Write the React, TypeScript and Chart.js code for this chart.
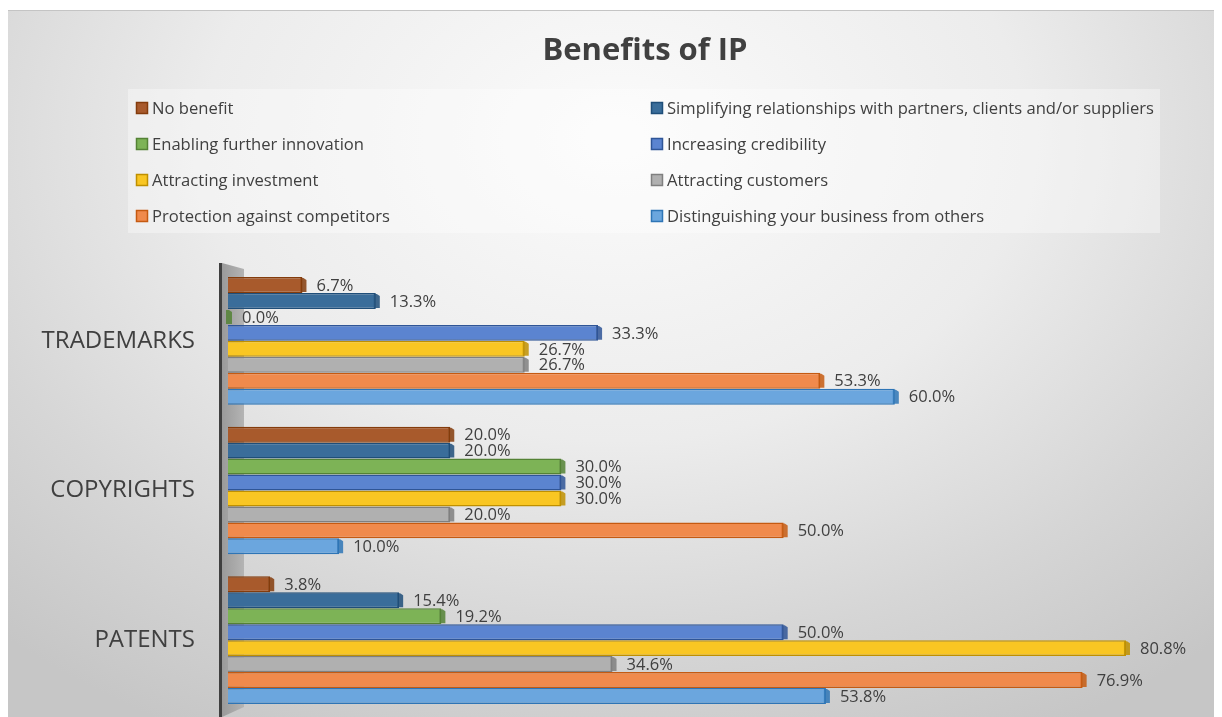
import React, { useEffect, useRef } from "react";
import { Chart, registerables } from "chart.js";

Chart.register(...registerables);

const categories = ["TRADEMARKS", "COPYRIGHTS", "PATENTS"];

const seriesNames = [
  "No benefit",
  "Simplifying relationships with partners, clients and/or suppliers",
  "Enabling further innovation",
  "Increasing credibility",
  "Attracting investment",
  "Attracting customers",
  "Protection against competitors",
  "Distinguishing your business from others",
];

const noBenefit = [6.7, 20.0, 3.8];
const simplifying = [13.3, 20.0, 15.4];
const enabling = [0.0, 30.0, 19.2];
const credibility = [33.3, 30.0, 50.0];
const investment = [26.7, 30.0, 80.8];
const customers = [26.7, 20.0, 34.6];
const protection = [53.3, 50.0, 76.9];
const distinguishing = [60.0, 10.0, 53.8];

const seriesValues = [noBenefit, simplifying, enabling, credibility, investment, customers, protection, distinguishing];

const fills = ["#A85A2C", "#3A6D9A", "#7DB356", "#5B84D0", "#F9C623", "#B0B0B0", "#F08A4C", "#6BA6DE"];
const borders = ["#843C0C", "#1F4E79", "#548235", "#2F5597", "#BF9000", "#7F7F7F", "#C55A11", "#2E75B6"];

const TEXT = "#404040";
const FONT = "'Open Sans', 'Noto Sans', sans-serif";

const decorPlugin = {
  id: "decor",
  beforeDatasetsDraw(chart: any) {
    const { ctx, chartArea } = chart;
    const L = chartArea.left;
    ctx.save();
    // back wall
    const g = ctx.createLinearGradient(L - 6, 0, L + 16, 0);
    g.addColorStop(0, "#9a9a9a");
    g.addColorStop(1, "#b4b4b4");
    ctx.fillStyle = g;
    ctx.beginPath();
    ctx.moveTo(L - 6, chartArea.top - 3);
    ctx.lineTo(L + 16, chartArea.top + 3);
    ctx.lineTo(L + 16, chartArea.bottom - 8);
    ctx.lineTo(L - 6, chartArea.bottom + 2);
    ctx.closePath();
    ctx.fill();
    // axis line
    ctx.fillStyle = "#3f3f3f";
    ctx.fillRect(L - 9, chartArea.top - 3, 3, chartArea.bottom - chartArea.top + 10);
    ctx.restore();
  },
  afterDatasetsDraw(chart: any) {
    const { ctx } = chart;
    ctx.save();
    chart.data.datasets.forEach((ds: any, di: number) => {
      const meta = chart.getDatasetMeta(di);
      meta.data.forEach((el: any, i: number) => {
        const p = el.getProps(["x", "y", "base", "height"], true);
        const h = p.height;
        const top = p.y - h / 2;
        // 3D end cap
        ctx.fillStyle = borders[di];
        ctx.globalAlpha = 0.85;
        ctx.beginPath();
        ctx.moveTo(p.x - 2, top + 1);
        ctx.lineTo(p.x + 1, top + 1);
        ctx.lineTo(p.x + 4, top + 3);
        ctx.lineTo(p.x + 4, top + h - 1);
        ctx.lineTo(p.x - 2, top + h - 1);
        ctx.closePath();
        ctx.fill();
        ctx.globalAlpha = 1;
        // data label
        const v = ds.data[i];
        ctx.fillStyle = TEXT;
        ctx.font = `16.5px ${FONT}`;
        ctx.textAlign = "left";
        ctx.textBaseline = "middle";
        ctx.fillText(v.toFixed(1) + "%", p.x + 14, p.y + 1);
      });
    });
    ctx.restore();
  },
  afterDraw(chart: any) {
    const { ctx } = chart;
    ctx.save();
    // title
    ctx.fillStyle = TEXT;
    ctx.font = `bold 31px ${FONT}`;
    ctx.textAlign = "center";
    ctx.textBaseline = "middle";
    ctx.fillText("Benefits of IP", 637, 40);
    // legend box
    ctx.fillStyle = "rgba(255,255,255,0.35)";
    ctx.fillRect(120, 78, 1032, 144);
    ctx.font = `16.6px ${FONT}`;
    ctx.textAlign = "left";
    chart.data.datasets.forEach((ds: any, di: number) => {
      const col = di % 2;
      const row = Math.floor(di / 2);
      const y = 97 + row * 36;
      const sx = col === 0 ? 128 : 643;
      ctx.fillStyle = fills[di];
      ctx.fillRect(sx, y - 6, 12, 12);
      ctx.strokeStyle = borders[di];
      ctx.lineWidth = 1.5;
      ctx.strokeRect(sx + 0.5, y - 5.5, 11, 11);
      ctx.fillStyle = TEXT;
      ctx.fillText(ds.label, sx + 16, y + 1);
    });
    ctx.restore();
  },
};

export default function App() {
  const ref = useRef<HTMLCanvasElement>(null);
  useEffect(() => {
    if (!ref.current) return;
    const chart = new Chart(ref.current, {
      type: "bar",
      data: {
        labels: categories,
        datasets: seriesNames.map((name, i) => ({
          label: name,
          data: seriesValues[i],
          backgroundColor: fills[i],
          borderColor: borders[i],
          borderWidth: 1.5,
          categoryPercentage: 0.853,
          barPercentage: 1,
        })),
      },
      options: {
        indexAxis: "y",
        animation: false,
        responsive: true,
        maintainAspectRatio: false,
        layout: { padding: { left: 0, top: 255, right: 16, bottom: 2 } },
        plugins: {
          legend: { display: false },
          title: { display: false },
          tooltip: { enabled: false },
        },
        scales: {
          x: { display: false, min: 0, max: 88 },
          y: {
            grid: { display: false, drawTicks: false },
            border: { display: false },
            afterFit(scale: any) {
              scale.width = 220;
              scale.paddingTop = 0;
              scale.paddingBottom = 0;
            },
            ticks: {
              color: TEXT,
              padding: 33,
              font: { size: 24, family: FONT },
            },
          },
        },
      },
      plugins: [decorPlugin],
    } as any);
    return () => chart.destroy();
  }, []);
  return (
    <div
      style={{
        marginTop: 2,
        width: 1214,
        height: 707,
        borderTop: "1px solid #c4c4c4",
        background:
          "radial-gradient(ellipse 75% 95% at 50% 18%, #fbfbfb 0%, #ececec 45%, #d6d6d6 75%, #c6c6c6 100%)",
      }}
    >
      <div style={{ position: "relative", width: 1214, height: 706 }}>
        <canvas ref={ref} />
      </div>
    </div>
  );
}
